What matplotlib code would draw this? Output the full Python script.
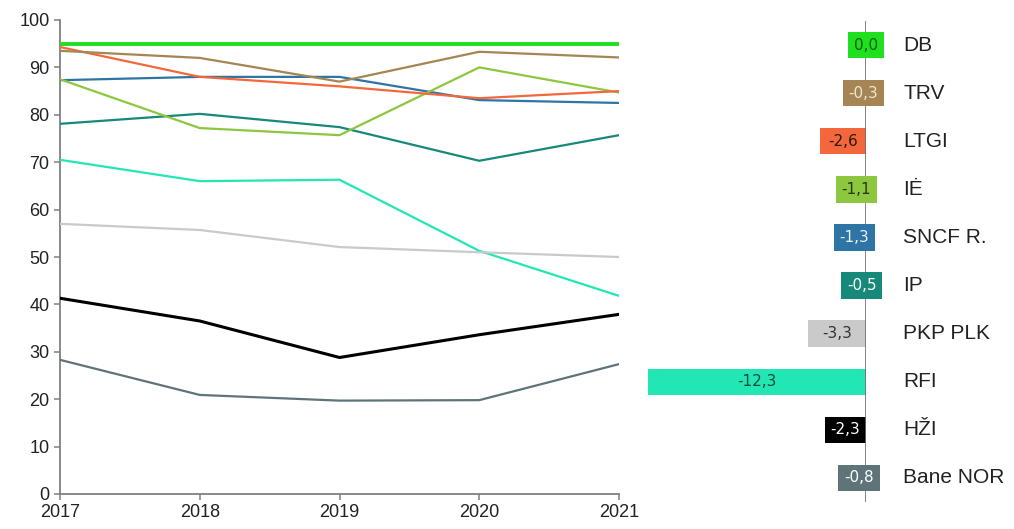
import matplotlib
matplotlib.use("Agg")
import matplotlib.pyplot as plt
import matplotlib.transforms as mtransforms

plt.rcParams["font.family"] = ["Liberation Sans", "DejaVu Sans"]

years = [2017, 2018, 2019, 2020, 2021]
names = ["DB", "TRV", "LTGI", "IĖ", "SNCF R.", "IP", "PKP PLK", "RFI", "HŽI", "Bane NOR"]
colors = ["#1fe01f", "#a58553", "#f4673c", "#8dc63f", "#2e75a6",
          "#17897a", "#cacaca", "#22e6b4", "#000000", "#5f7479"]

db = [95.0, 95.0, 95.0, 95.0, 95.0]
trv = [93.5, 92.0, 87.0, 93.3, 92.1]
ltgi = [94.3, 88.0, 86.0, 83.5, 85.0]
ie = [87.5, 77.2, 75.7, 90.0, 84.7]
sncf = [87.3, 88.0, 88.0, 83.1, 82.5]
ip = [78.1, 80.2, 77.4, 70.3, 75.7]
pkp = [57.0, 55.7, 52.1, 51.0, 50.0]
rfi = [70.5, 66.0, 66.3, 51.3, 41.8]
hzi = [41.3, 36.5, 28.8, 33.6, 37.9]
bane = [28.3, 20.9, 19.7, 19.8, 27.4]
series = [db, trv, ltgi, ie, sncf, ip, pkp, rfi, hzi, bane]

change = [0.0, -0.3, -2.6, -1.1, -1.3, -0.5, -3.3, -12.3, -2.3, -0.8]
change_txt = ["0,0", "-0,3", "-2,6", "-1,1", "-1,3", "-0,5", "-3,3", "-12,3", "-2,3", "-0,8"]
label_colors = ["#145a14", "#f0e6d0", "#2a1a10", "#2a3a10", "#e8f0f8",
                "#ffffff", "#333333", "#1a4a3a", "#ffffff", "#ffffff"]

W, H = 1014, 529
fig = plt.figure(figsize=(W / 100, H / 100), dpi=100)

# --- left: lines ---
ax = fig.add_axes([60 / W, (H - 494) / H, (619 - 60) / W, (494 - 20) / H])
for i in range(len(series) - 1, -1, -1):
    lw = 2.8 if i == 0 else (2.2 if i == 8 else 1.6)
    ax.plot(years, series[i], color=colors[i], lw=lw, zorder=3 + (len(series) - i) * 0.01)
ax.set_xlim(2017, 2021)
ax.set_ylim(0, 100)
ax.set_xticks(years)
ax.set_yticks(range(0, 101, 10))
for s in ["top", "right"]:
    ax.spines[s].set_visible(False)
for s in ["left", "bottom"]:
    ax.spines[s].set_color("#808080")
    ax.spines[s].set_linewidth(1.3)
ax.tick_params(axis="both", colors="#808080", length=4, width=1.1, labelsize=13,
               labelcolor="#222222")
ax.tick_params(axis="x", pad=3)

# --- right: change bars ---
ax2 = fig.add_axes([640 / W, (H - 502) / H, (866 - 640) / W, (502 - 21) / H])
ypos = list(range(len(names)))
ax2.barh(ypos, change, height=0.55, color=colors, zorder=2)
ax2.set_xlim(-12.75, 0)
ax2.set_ylim(len(names) - 0.5, -0.5)
ax2.axis("off")
ax2.axvline(0, color="#707070", lw=1.2, zorder=4)

name_tr = mtransforms.blended_transform_factory(fig.transFigure, ax2.transData)
for y, (n, v, t, c, tc) in enumerate(zip(names, change, change_txt, colors, label_colors)):
    ax2.text(903 / W, y, n, transform=name_tr, ha="left", va="center",
             fontsize=15, color="#222222")
    if abs(v) >= 2:
        ax2.text(v / 2, y, t, ha="center", va="center", fontsize=11, color=tc, zorder=5,
                 family="DejaVu Sans")
    else:
        ax2.text(v / 2, y, t, ha="center", va="center", fontsize=11, color=tc, zorder=5,
                 family="DejaVu Sans", clip_on=False,
                 bbox=dict(boxstyle="square,pad=0.38", fc=c, ec="none"))

fig.savefig("out.png", dpi=100)
